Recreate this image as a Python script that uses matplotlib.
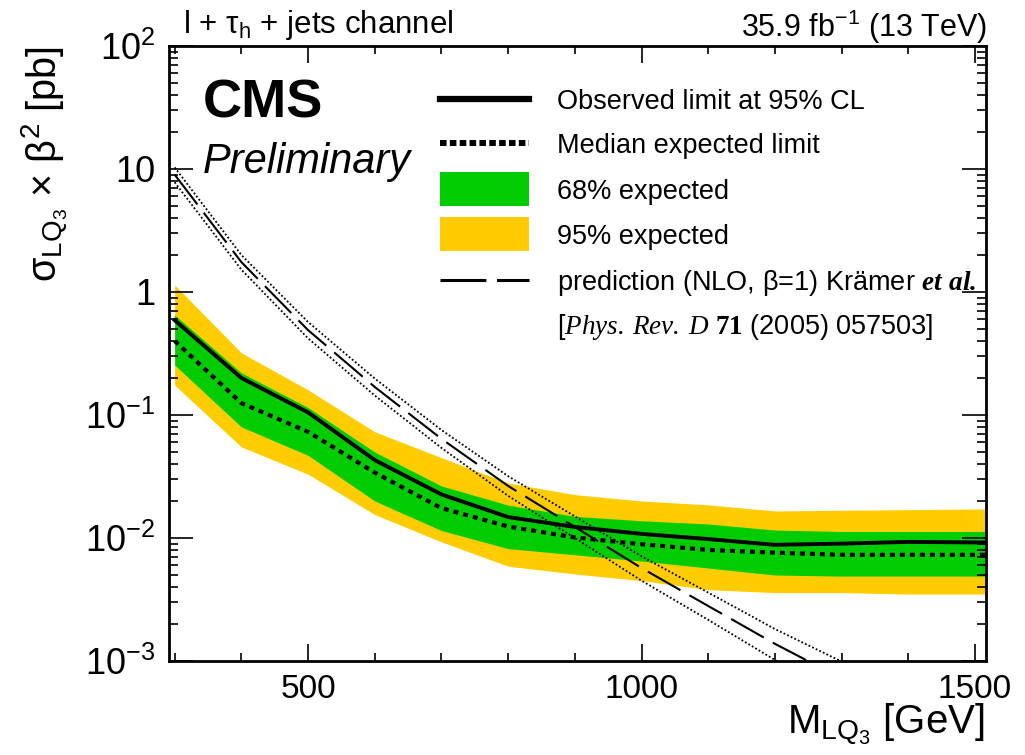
import numpy as np
import matplotlib
matplotlib.use("Agg")
import matplotlib.pyplot as plt
from matplotlib.lines import Line2D
from matplotlib.patches import Rectangle
from matplotlib.ticker import FixedLocator, LogLocator, MultipleLocator, NullFormatter

plt.rcParams['font.family'] = ['Liberation Sans', 'DejaVu Sans']
plt.rcParams['mathtext.fontset'] = 'custom'
plt.rcParams['mathtext.rm'] = 'Liberation Sans'
plt.rcParams['mathtext.it'] = 'Liberation Sans:italic'
plt.rcParams['mathtext.bf'] = 'Liberation Sans:bold'
# serif faces for the reference ("et al.", "Phys. Rev. D", "71")
plt.rcParams['mathtext.sf'] = 'Liberation Serif:italic'
plt.rcParams['mathtext.tt'] = 'Liberation Serif:bold'
plt.rcParams['mathtext.cal'] = 'Liberation Serif:italic:bold'

# limits vs leptoquark mass (GeV), values in pb
mass = [300, 400, 500, 600, 700, 800, 900, 1000, 1100, 1200, 1300, 1400, 1500, 1550]
observed = [0.59, 0.20, 0.105, 0.043, 0.0226, 0.0148, 0.0123, 0.0108, 0.0098, 0.0088, 0.0090, 0.0093, 0.0092, 0.0092]
expected = [0.40, 0.125, 0.073, 0.034, 0.0175, 0.0124, 0.0101, 0.0089, 0.0080, 0.0076, 0.0073, 0.0073, 0.0073, 0.0073]
band68_up = [0.65, 0.22, 0.115, 0.050, 0.0265, 0.0185, 0.0150, 0.0138, 0.0130, 0.0116, 0.0113, 0.0113, 0.0113, 0.0113]
band68_down = [0.255, 0.080, 0.047, 0.020, 0.0115, 0.0082, 0.0073, 0.0065, 0.0057, 0.0050, 0.0049, 0.0049, 0.0049, 0.0049]
band95_up = [1.14, 0.32, 0.16, 0.073, 0.045, 0.028, 0.0225, 0.0200, 0.0186, 0.0166, 0.0168, 0.0170, 0.0172, 0.0172]
band95_down = [0.175, 0.055, 0.033, 0.0155, 0.0093, 0.0059, 0.0051, 0.0045, 0.0038, 0.0036, 0.0036, 0.0035, 0.0035, 0.0035]

# NLO prediction (beta = 1) with its uncertainty
mass_th = [300, 400, 500, 600, 700, 800, 900, 1000, 1100, 1200, 1300, 1400, 1500]
theory = [9.0, 1.75, 0.49, 0.169, 0.064, 0.0265, 0.0123, 0.0057, 0.0028, 0.00138, 0.00072, 0.0004, 0.00022]
theory_up = [10.3, 2.0, 0.57, 0.198, 0.0755, 0.0318, 0.0150, 0.0071, 0.0036, 0.00182, 0.00099, 0.00057, 0.00033]
theory_down = [7.8, 1.52, 0.42, 0.144, 0.054, 0.022, 0.0100, 0.0045, 0.00216, 0.00102, 0.00051, 0.00027, 0.00014]

ytick_vals = [1e-3, 1e-2, 1e-1, 1, 10, 100]
ytick_labels = ["10$^{-3}$", "10$^{-2}$", "10$^{-1}$", "1", "10", "10$^{2}$"]

legend_labels = [
    "Observed limit at 95% CL",
    "Median expected limit",
    "68% expected",
    "95% expected",
    r"prediction (NLO, β=1) Krämer $\mathcal{et\ al.}$",
    r"[$\mathsf{Phys.\,Rev.\,D}$ $\mathtt{71}$ (2005) 057503]",
]

green = '#00cc00'
yellow = '#ffcc00'

W, H = 1025, 755
fig = plt.figure(figsize=(W / 100, H / 100), dpi=100)
ax = fig.add_axes([169 / W, 1 - 661 / H, 817 / W, 615 / H])

ax.fill_between(mass, band95_down, band95_up, color=yellow, lw=0)
ax.fill_between(mass, band68_down, band68_up, color=green, lw=0)
ax.plot(mass, expected, color='black', lw=3.0, linestyle=(0, (1.2, 1.2)))
ax.plot(mass, observed, color='black', lw=2.8)
ax.plot(mass_th, theory, color='black', lw=1.5, linestyle=(0, (18, 5)))
ax.plot(mass_th, theory_up, color='black', lw=1.3, linestyle=(0, (1, 1.2)))
ax.plot(mass_th, theory_down, color='black', lw=1.3, linestyle=(0, (1, 1.2)))

ax.set_yscale('log')
ax.set_xlim(291.5, 1516.5)
ax.set_ylim(1e-3, 1e2)

ax.xaxis.set_major_locator(MultipleLocator(500))
ax.xaxis.set_minor_locator(MultipleLocator(100))
ax.yaxis.set_major_locator(FixedLocator(ytick_vals))
ax.set_yticklabels(ytick_labels)
ax.yaxis.set_minor_locator(LogLocator(base=10, subs=np.arange(2, 10)))
ax.yaxis.set_minor_formatter(NullFormatter())

ax.tick_params(which='both', direction='in', top=True, right=True)
ax.tick_params(axis='x', which='major', length=12, width=1.2, pad=9, labelsize=24)
ax.tick_params(axis='x', which='minor', length=6, width=1.2)
ax.tick_params(axis='y', which='major', length=17, width=1.2, pad=10, labelsize=26)
ax.tick_params(axis='y', which='minor', length=6.5, width=1.2)
for sp in ax.spines.values():
    sp.set_linewidth(2.0)

# axis titles
fig.text(985 / W, 1 - 732 / H, r"M$_{\mathrm{LQ}_3}$ [GeV]", ha='right', va='baseline', fontsize=29)
fig.text(45 / W, 1 - 46 / H, r"σ$_{\mathrm{LQ}_3}$ × β$^2$ [pb]", rotation=90,
         ha='center', va='top', fontsize=28.5)

# header
fig.text(183 / W, 1 - 33 / H, r"l + τ$_{\mathrm{h}}$ + jets channel", ha='left', va='baseline', fontsize=22.5)
fig.text(987 / W, 1 - 37 / H, r"35.9 fb$^{-1}$ (13 TeV)", ha='right', va='baseline', fontsize=22)
fig.text(203 / W, 1 - 118 / H, "CMS", fontweight='bold', ha='left', va='baseline', fontsize=39)
fig.text(203 / W, 1 - 173 / H, "Preliminary", style='italic', ha='left', va='baseline', fontsize=30)

# legend, drawn by hand so the rows sit where the original has them
row_y = [99, 143, 189, 234, 280, 324]
x0, x1, xt = 440, 529, 557


def fx(px):
    return px / W


def fy(py):
    return 1 - py / H


fig.add_artist(Line2D([fx(x0), fx(x1)], [fy(row_y[0])] * 2, color='black', lw=4.5))
fig.add_artist(Line2D([fx(x0), fx(x1)], [fy(row_y[1])] * 2, color='black', lw=4.3,
                      linestyle=(0, (1.1, 0.55))))
fig.add_artist(Rectangle((fx(x0), fy(row_y[2] + 17)), (x1 - x0) / W, 34 / H, facecolor=green, edgecolor='none'))
fig.add_artist(Rectangle((fx(x0), fy(row_y[3] + 17)), (x1 - x0) / W, 34 / H, facecolor=yellow, edgecolor='none'))
fig.add_artist(Line2D([fx(x0), fx(x1)], [fy(row_y[4])] * 2, color='black', lw=2.2,
                      linestyle=(0, (15, 3.5))))
for yy, lab in zip(row_y, legend_labels):
    fig.text(fx(xt), fy(yy + 10), lab, ha='left', va='baseline', fontsize=19.5)

fig.savefig("out.png", dpi=100)
